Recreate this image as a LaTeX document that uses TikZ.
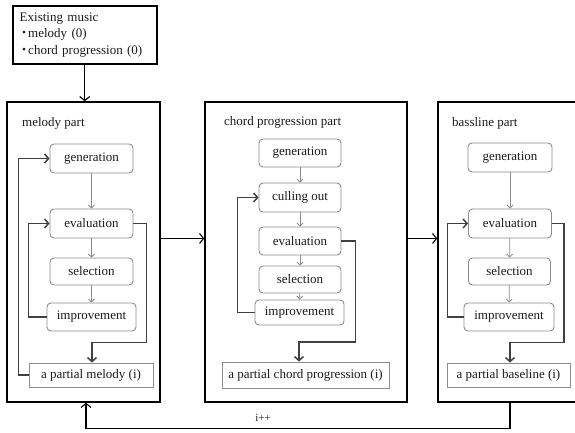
\documentclass[tikz,border=0pt]{standalone}
\usepackage{fontspec}
\setmainfont{Liberation Serif}
\newfontfamily\cjk{Noto Sans CJK JP}
\usetikzlibrary{arrows.meta,calc}
\definecolor{boxgray}{HTML}{8C8C8C}
\definecolor{loopgray}{HTML}{404040}
\definecolor{txt}{HTML}{1A1A1A}
\newcommand{\mybul}{{\cjk\hspace*{-2pt}・\hspace{-2.5pt}}}
\begin{document}
\begin{tikzpicture}[x=1pt,y=-1pt,
  every node/.style={font=\fontsize{13}{16.5}\selectfont, text=txt},
  part/.style={draw=black, line width=1.5pt, minimum width=#1, minimum height=300, inner sep=0pt},
  stepbox/.style={draw=boxgray, line width=0.9pt, rounded corners=4pt, minimum width=#1, inner sep=0pt},
  resbox/.style={draw=boxgray, line width=0.9pt, minimum width=#1, minimum height=24, inner sep=0pt},
  partlabel/.style={anchor=west, inner sep=0pt},
  thin/.style={draw=boxgray, line width=0.8pt, -{Straight Barb[length=3pt,width=6pt]}},
  loop/.style={draw=loopgray, line width=1.5pt, -{Straight Barb[length=4pt,width=9pt]}},
  big/.style={draw=black, line width=1.1pt, -{Straight Barb[length=4pt,width=10pt]}}
]
\useasboundingbox (0,0) rectangle (575,432);
\clip (0,0) rectangle (575,432);

% existing music
\node[draw=black, line width=1.5pt, anchor=north west, text width=130, inner xsep=7pt, minimum height=58, align=left, inner ysep=3pt] (exist) at (12,5)
  {Existing music\\\mybul melody (0)\\\mybul chord progression (0)};

% ---------- melody part ----------
\node[part=153] (mbox) at (83.5,252) {};
\node[partlabel] (mlab) at (22,123) {melody part};
\node[stepbox=83, minimum height=29] (mgen) at (91.5,158.5) {generation};
\node[stepbox=83, minimum height=29] (meval) at (91.5,223.5) {evaluation};
\node[stepbox=83, minimum height=27] (msel) at (91.5,271.5) {selection};
\node[stepbox=89, minimum height=28] (mimp) at (91.5,317) {improvement};
\node[resbox=124] (mpart) at (91,375) {a partial melody (i)};

\draw[thin] (mgen) -- (meval);
\draw[thin] (meval) -- (msel);
\draw[thin] (msel) -- (mimp);
\draw[loop] (mpart.west) -- ++(-10,0) |- (mgen.west);
\draw[loop] (mimp.west) -- ++(-18,0) |- (meval.west);
\draw[loop] (meval.east) -- ++(13,0) -- ++(0,119) -| ([xshift=1]mpart.north);

% ---------- chord progression part ----------
\node[part=202] (cbox) at (306,252) {};
\node[partlabel] (clab) at (224,122) {chord progression part};
\node[stepbox=82, minimum height=28] (cgen) at (300,153) {generation};
\node[stepbox=82, minimum height=29] (ccull) at (300,197.5) {culling out};
\node[stepbox=82, minimum height=28] (ceval) at (300,241) {evaluation};
\node[stepbox=82, minimum height=27] (csel) at (300,279.5) {selection};
\node[stepbox=89, minimum height=25] (cimp) at (299.5,312.5) {improvement};
\node[resbox=167, minimum height=26] (cpart) at (305.5,375) {a partial chord progression (i)};

\draw[thin] (cgen) -- (ccull);
\draw[thin] (ccull) -- (ceval);
\draw[thin] (ceval) -- (csel);
\draw[thin] (csel) -- (cimp);
\draw[loop] (cimp.west) -- ++(-17,0) |- (ccull.west);
\draw[loop] (ceval.east) -- ++(14,0) -- ++(0,101) -| ([xshift=-6.5]cpart.north);

% ---------- bassline part ----------
\node[part=170] (bbox) at (523,252) {};
\node[partlabel] (blab) at (452,123) {bassline part};
\node[stepbox=84, minimum height=29] (bgen) at (510,157.5) {generation};
\node[stepbox=83, minimum height=29] (beval) at (510,223.5) {evaluation};
\node[stepbox=82, minimum height=27] (bsel) at (509.5,271.5) {selection};
\node[stepbox=90, minimum height=28] (bimp) at (509,317) {improvement};
\node[resbox=123] (bpart) at (508.5,375) {a partial baseline (i)};

\draw[thin] (bgen) -- (beval);
\draw[thin] (beval) -- (bsel);
\draw[thin] (bsel) -- (bimp);
\draw[loop] (bimp.west) -- ++(-16,0) |- (beval.west);
\draw[loop] (beval.east) -- ++(12,0) -- ++(0,119) -| ([xshift=1.5]bpart.north);

% ---------- main flow ----------
\draw[big] (exist.south) -- (exist.south |- mbox.north);
\draw[big] (mbox.east |- meval.south) -- (cbox.west |- meval.south);
\draw[big] (cbox.east |- meval.south) -- (bbox.west |- meval.south);
\draw[big] ([xshift=1.5]bpart.south |- bbox.south) -- ++(0,26) -| ([xshift=2.5]mbox.south);
\node[font=\fontsize{11}{12}\selectfont, inner sep=0pt] (inc) at (263,418) {i++};
\end{tikzpicture}
\end{document}
